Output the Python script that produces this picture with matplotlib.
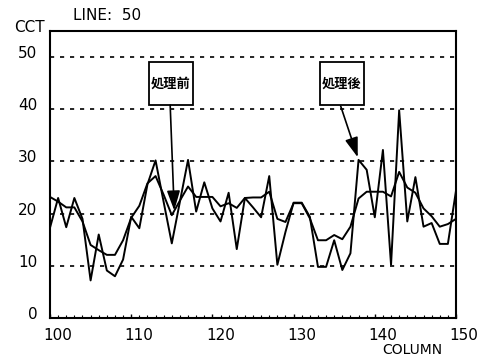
import numpy as np
import matplotlib.pyplot as plt
import matplotlib.transforms as mtransforms
from matplotlib.patches import Rectangle

# columns along the scan line
columns = np.arange(100, 151)

# raw CCT values (before processing) - jagged line
cct_before = [17.3, 23.0, 17.4, 23.0, 19.0, 7.2, 16.0, 9.1, 8.0, 11.2,
              19.4, 17.2, 25.6, 30.2, 22.2, 14.3, 22.3, 30.3, 20.4, 26.0,
              21.0, 18.5, 24.0, 13.2, 23.0, 21.2, 19.3, 27.2, 10.2, 16.5,
              22.1, 22.1, 19.4, 9.8, 9.8, 14.9, 9.2, 12.4, 30.3, 28.4,
              19.3, 32.2, 10.2, 39.8, 18.5, 27.0, 17.5, 18.2, 14.2, 14.2,
              24.4]

# smoothed CCT values (after processing)
cct_after = [23.2, 22.3, 21.2, 21.2, 18.5, 14.0, 13.0, 12.1, 12.1, 14.9,
             19.2, 21.5, 25.8, 27.2, 23.6, 19.7, 22.5, 25.2, 23.2, 23.2,
             23.2, 21.4, 22.0, 21.1, 23.0, 23.1, 23.1, 24.2, 19.0, 18.4,
             22.0, 22.0, 19.1, 14.9, 14.9, 15.9, 15.1, 17.5, 22.9, 24.2,
             24.2, 24.2, 23.3, 28.0, 25.0, 24.0, 21.0, 19.5, 17.5, 18.0,
             19.0]

y_ticks = [0, 10, 20, 30, 40, 50]
x_ticks = [100, 110, 120, 130, 140, 150]

# annotation boxes: label, box centre, arrow start, arrow tip (data coords)
notes = [
    ('処理前', (114.9, 44.9), (114.8, 40.8), (115.3, 20.6)),
    ('処理後', (135.9, 44.9), (135.8, 40.6), (137.9, 30.8)),
]

fig = plt.figure(figsize=(4.86, 3.56), dpi=100)
ax = fig.add_axes([50 / 486, 1 - 318 / 356, 406 / 486, 287 / 356])

for yy in y_ticks[1:]:
    ax.axhline(yy, color='black', lw=1.2, dashes=(2.5, 3.5), zorder=1)

ax.plot(columns, cct_before, color='black', lw=1.4, zorder=3)
ax.plot(columns, cct_after, color='black', lw=1.4, zorder=3)

ax.set_xlim(100, 150)
ax.set_ylim(0, 55)
ax.set_xticks(x_ticks)
ax.set_yticks(y_ticks)
ax.set_xticks(columns, minor=True)
ax.tick_params(axis='x', which='major', direction='in', length=3, width=1,
               labelsize=11, pad=7)
ax.tick_params(axis='x', which='minor', direction='in', length=2, width=0.8)
ax.tick_params(axis='y', which='both', length=0, labelsize=11, pad=9)

for sp in ax.spines.values():
    sp.set_linewidth(1.5)
    sp.set_color('black')

# labels in the scan sit a bit off their ticks
shift_y = mtransforms.ScaledTranslation(0, 5 / 100, fig.dpi_scale_trans)
for lab in ax.get_yticklabels():
    lab.set_transform(lab.get_transform() + shift_y)
shift_x = mtransforms.ScaledTranslation(8 / 100, 0, fig.dpi_scale_trans)
for lab in ax.get_xticklabels():
    lab.set_transform(lab.get_transform() + shift_x)

box_w, box_h = 44 / 8.12, 43 / 5.22
for label, centre, start, tip in notes:
    ax.add_patch(Rectangle((centre[0] - box_w / 2, centre[1] - box_h / 2),
                           box_w, box_h, fill=True, facecolor='white',
                           edgecolor='black', lw=1.3, zorder=5))
    ax.text(centre[0], centre[1], label, ha='center', va='center',
            fontsize=9.5, fontweight='bold',
            family=['Noto Sans CJK JP', 'DejaVu Sans'], zorder=6)
    ax.annotate('', xy=tip, xytext=start,
                arrowprops=dict(arrowstyle='-|>,head_length=1.2,head_width=0.4',
                                color='black', lw=1.2, shrinkA=0, shrinkB=0),
                zorder=6)

fig.text(14 / 486, 1 - 28 / 356, 'CCT', fontsize=11, va='center', ha='left')
fig.text(73 / 486, 1 - 15 / 356, 'LINE:  50', fontsize=11, va='center',
         ha='left')
fig.text(412 / 486, 1 - 350 / 356, 'COLUMN', fontsize=10, va='center',
         ha='center')

fig.savefig('out.png', dpi=100)
